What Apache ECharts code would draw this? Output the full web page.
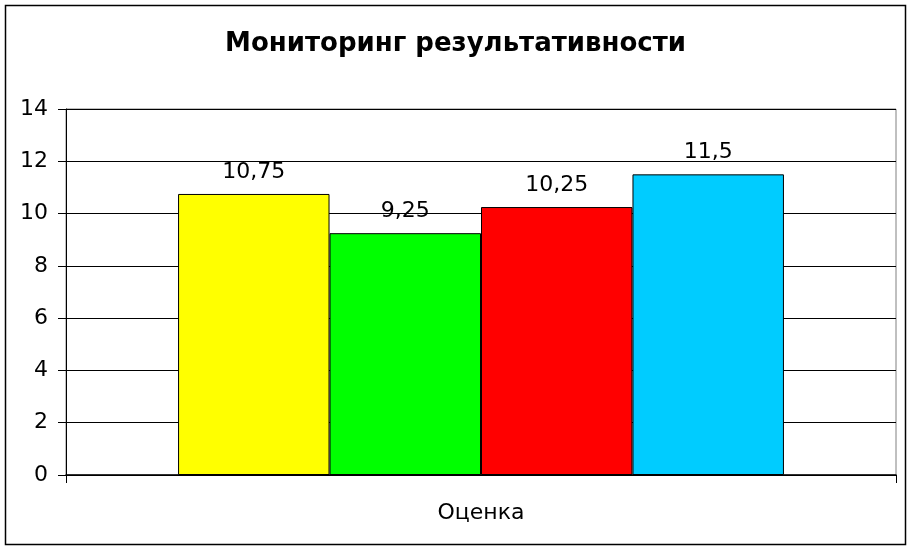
<!DOCTYPE html>
<html><head><meta charset="utf-8">
<script src="https://cdn.jsdelivr.net/npm/echarts@6/dist/echarts.min.js"></script>
<style>html,body{margin:0;padding:0;background:#fff}#c{width:911px;height:549px}</style>
</head><body><div id="c"></div>
<script>
const titleText = 'Мониторинг результативности';
const categories = ['Оценка'];
const seriesNames = ['Ряд1', 'Ряд2', 'Ряд3', 'Ряд4'];
const seriesValues = [10.75, 9.25, 10.25, 11.5];
const seriesColors = ['#FFFF00', '#00FF00', '#FF0000', '#00CCFF'];
const yTicks = {min: 0, max: 14, interval: 2};

const font = 'DejaVu Sans';
const chart = echarts.init(document.getElementById('c'), null, {renderer: 'canvas'});
chart.setOption({
  animation: false,
  backgroundColor: '#fff',
  title: {text: titleText, left: 'center', top: 26,
    textStyle: {fontFamily: font, fontSize: 26, fontWeight: 'bold', color: '#000'}},
  graphic: [{type: 'rect', shape: {x: 5.5, y: 5.5, width: 900, height: 539},
    style: {fill: null, stroke: '#000', lineWidth: 1.5}, z: 100}],
  grid: {left: 66, right: 15, top: 109, bottom: 74, show: true, borderColor: '#808080', borderWidth: 1},
  xAxis: {type: 'category', data: categories,
    axisLine: {lineStyle: {color: '#000', width: 1.5}},
    axisTick: {show: true, length: 8, lineStyle: {color: '#000'}},
    axisLabel: {fontFamily: font, fontSize: 22, color: '#000', margin: 27}},
  yAxis: {type: 'value', min: yTicks.min, max: yTicks.max, interval: yTicks.interval,
    axisLine: {show: true, lineStyle: {color: '#000', width: 1}},
    axisTick: {show: true, length: 8, lineStyle: {color: '#000'}},
    splitLine: {lineStyle: {color: '#000', width: 1}},
    axisLabel: {fontFamily: font, fontSize: 22, color: '#000', margin: 18}},
  series: seriesValues.map((v, i) => ({
    name: seriesNames[i], type: 'bar', data: [v],
    barGap: '0%', barCategoryGap: '27%',
    itemStyle: {color: seriesColors[i], borderColor: '#000', borderWidth: 1},
    label: {show: true, position: 'top', distance: 11, fontFamily: font, fontSize: 22, color: '#000',
      formatter: p => String(p.value).replace('.', ',')}
  }))
});
</script></body></html>
